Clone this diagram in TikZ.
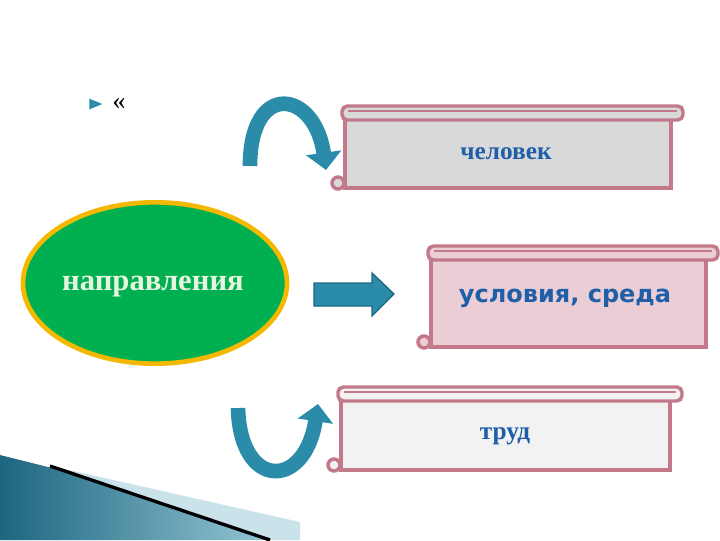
\documentclass[tikz,border=0pt]{standalone}
\usepackage{fontspec}
\setmainfont{Liberation Serif}
\newfontfamily\sansf{DejaVu Sans}
\usetikzlibrary{arrows.meta,shapes.geometric}
\definecolor{teal1}{HTML}{2B8CAA}
\definecolor{teal2}{HTML}{1D6680}
\definecolor{rose}{HTML}{C27A8A}
\definecolor{txtblue}{HTML}{1F5FA8}
\definecolor{grn}{HTML}{00B050}
\definecolor{gold}{HTML}{F5B800}
\definecolor{scA}{HTML}{D9D9D9}
\definecolor{scB}{HTML}{EACDD5}
\definecolor{scC}{HTML}{F2F2F2}
\tikzset{
  scrollline/.style={draw=rose, line width=2.6pt},
  curvarrow/.style={draw=teal1, line width=11pt, -{Triangle[length=13pt,width=26pt]}},
  lbl/.style={font=\bfseries\fontsize{19}{22}\selectfont, text=txtblue}
}
\newcommand{\myscroll}[5]{% x1 y1 x2 y2 fill
  \fill[#5] (#1+3,#2+12) rectangle (#3-12,#4);
  \draw[scrollline, fill=#5, rounded corners=4] (#1,#2) rectangle (#3,#2+14);
  \draw[scrollline] (#1+3,#2+14) -- (#1+3,#4) -- (#3-12,#4) -- (#3-12,#2+14);
  \draw[scrollline, fill=#5] (#1-4,#4-5) circle (6);
  \draw[rose, line width=1pt] (#1+6,#2+5) -- (#3-6,#2+5);
}
\begin{document}
\begin{tikzpicture}[x=0.75pt,y=-0.75pt]
\useasboundingbox (0,0) rectangle (720,540);
\fill[white] (0,0) rectangle (720,540);
% bottom-left decoration
\shade[left color=teal2, right color=teal1!50] (0,455) -- (60,470) -- (270,540) -- (0,540) -- cycle;
\fill[teal1!25] (60,468) -- (300,522) -- (300,540) -- (270,540) -- cycle;
\draw[black, line width=2.5pt] (50,466) -- (270,540);
% bullet
\node (bul) at (93,104) [fill=teal1, isosceles triangle, inner sep=0pt, minimum width=8pt, minimum height=6pt] {};
\node (quo) at (119,104) {\fontsize{20}{22}\selectfont «};
% ellipse
\node (ell) at (155,283) [ellipse, fill=grn, draw=gold, line width=3.5pt, minimum width=198pt, minimum height=121pt] {};
\node (ellt) at (153,287) {\bfseries\fontsize{23}{25}\selectfont\color[HTML]{E6F5E0}направления};
% scrolls
\myscroll{342}{106}{683}{188}{scA}
\myscroll{428}{246}{718}{347}{scB}
\myscroll{338}{387}{682}{470}{scC}
\node[lbl] (t1) at (506,154) {человек};
\node[lbl, font=\sansf\bfseries\fontsize{18}{20}\selectfont] (t2) at (565,298) {условия, среда};
\node[lbl] (t3) at (505,436) {труд};
% block arrow
\coordinate (ba) at (314,283);
\draw[fill=teal1, draw=teal2, line width=1pt] (ba) -- (372,283) -- (372,273) -- (394,294) -- (372,316) -- (372,306) -- (314,306) -- cycle;
% curved arrows
\coordinate (a1) at (250,166);
\coordinate (a2) at (326,170);
\draw[curvarrow] (a1) .. controls (250,80) and (315,90) .. (a2);
\coordinate (b1) at (238,408);
\coordinate (b2) at (318,404);
\draw[curvarrow] (b1) .. controls (240,490) and (305,490) .. (b2);
\end{tikzpicture}
\end{document}
